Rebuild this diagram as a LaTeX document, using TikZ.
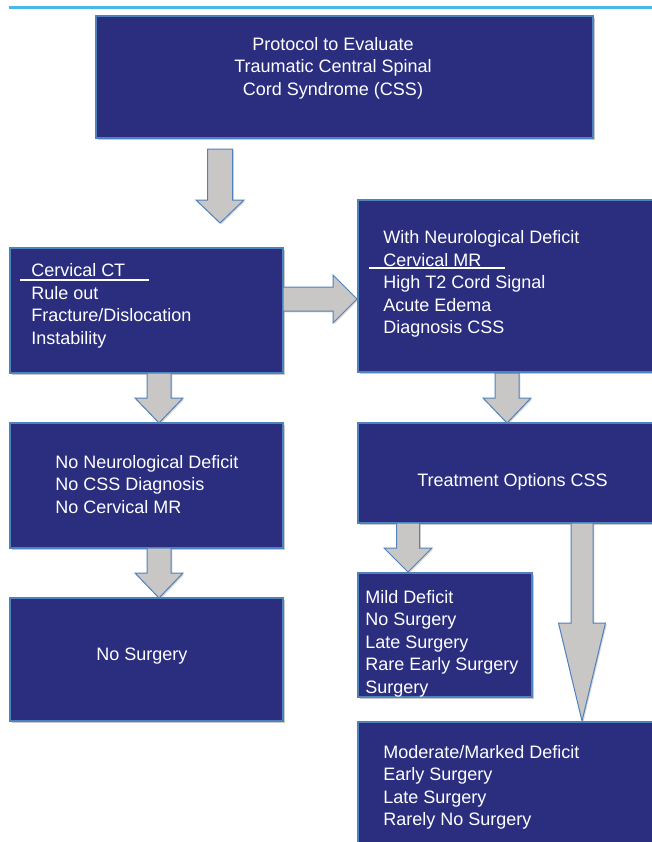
\documentclass[tikz,border=0pt]{standalone}
\usepackage{fontspec}
\setmainfont{Liberation Sans}
\usetikzlibrary{shadows,fit}
\definecolor{navy}{RGB}{43,46,126}
\definecolor{edgeblue}{RGB}{79,129,189}
\definecolor{arrowgray}{RGB}{200,199,197}
\definecolor{rulecol}{RGB}{74,184,230}
\newcommand\dnarrow[6]{%
  \draw[blockarrow] ({#1-#3},#2) -- ({#1+#3},#2) -- ({#1+#3},#5) -- ({#1+#4},#5)
    -- (#1,#6) -- ({#1-#4},#5) -- ({#1-#3},#5) -- cycle;}
\begin{document}
\begin{tikzpicture}[x=0.75pt,y=-0.75pt,
  box/.style={draw=edgeblue, line width=0.9pt, fill=navy, inner sep=0pt,
    drop shadow={shadow xshift=1.2pt, shadow yshift=-1.2pt, opacity=0.35, fill=black!60}},
  txt/.style={text=white, font=\fontsize{13.5}{16.9}\selectfont, inner sep=0pt},
  blockarrow/.style={draw=edgeblue, line width=0.75pt, fill=arrowgray, line join=miter,
    drop shadow={shadow xshift=1pt, shadow yshift=-1pt, opacity=0.3, fill=black!50}},
  uline/.style={draw=white, line width=1.2pt}]
\clip (0,0) rectangle (652,842);
\fill[white] (0,0) rectangle (652,842);
% top rule
\draw[rulecol, line width=1.6pt] (9,7.5) -- (652,7.5);
% boxes
\node[box, fit={(96,16) (593,138)}] (topbox) {};
\node[box, fit={(10,248) (283,373)}] (ct) {};
\node[box, fit={(358,200) (664,372)}] (mr) {};
\node[box, fit={(10,423) (283,548)}] (noneuro) {};
\node[box, fit={(10,598) (283,721)}] (nosurg) {};
\node[box, fit={(358,423) (664,523)}] (treat) {};
\node[box, fit={(358,573) (532,697)}] (mild) {};
\node[box, fit={(358,722) (664,870)}] (moderate) {};
% texts
\node[txt, align=center] (toptext) at (333,68) {Protocol to Evaluate\\Traumatic Central Spinal\\Cord Syndrome (CSS)};
\node[txt, align=left, anchor=west] (cttext) at (31,306) {Cervical CT\\Rule out\\Fracture/Dislocation\\Instability};
\draw[uline] (20,280) -- (149,280);
\node[txt, align=left, anchor=west] (mrtext) at (383,284) {With Neurological Deficit\\Cervical MR\\High T2 Cord Signal\\Acute Edema\\Diagnosis CSS};
\draw[uline] (369,268) -- (505,268);
\node[txt, align=left, anchor=west] (noneurotext) at (55,484.5) {No Neurological Deficit\\No CSS Diagnosis\\No Cervical MR};
\node[txt] (nosurgtext) at (142,656) {No Surgery};
\node[txt, anchor=west] (treattext) at (417,482) {Treatment Options CSS};
\node[txt, align=left, anchor=west] (mildtext) at (365,643.5) {Mild Deficit\\No Surgery\\Late Surgery\\Rare Early Surgery\\Surgery};
\node[txt, align=left, anchor=west] (modtext) at (383,787.5) {Moderate/Marked Deficit\\Early Surgery\\Late Surgery\\Rarely No Surgery};
% block arrows
\dnarrow{220}{149}{12.5}{24}{200}{223}
\dnarrow{159}{373}{12}{24}{398}{423}
\dnarrow{507}{373}{12}{24}{398}{423}
\dnarrow{159}{548}{12}{24}{573}{598}
\dnarrow{408}{523}{11.5}{24}{548}{572}
\dnarrow{582}{523}{11}{23.5}{623}{721}
\draw[blockarrow] (283,287) -- (333,287) -- (333,275) -- (357,299) -- (333,323) -- (333,311) -- (283,311) -- cycle;
\end{tikzpicture}
\end{document}
